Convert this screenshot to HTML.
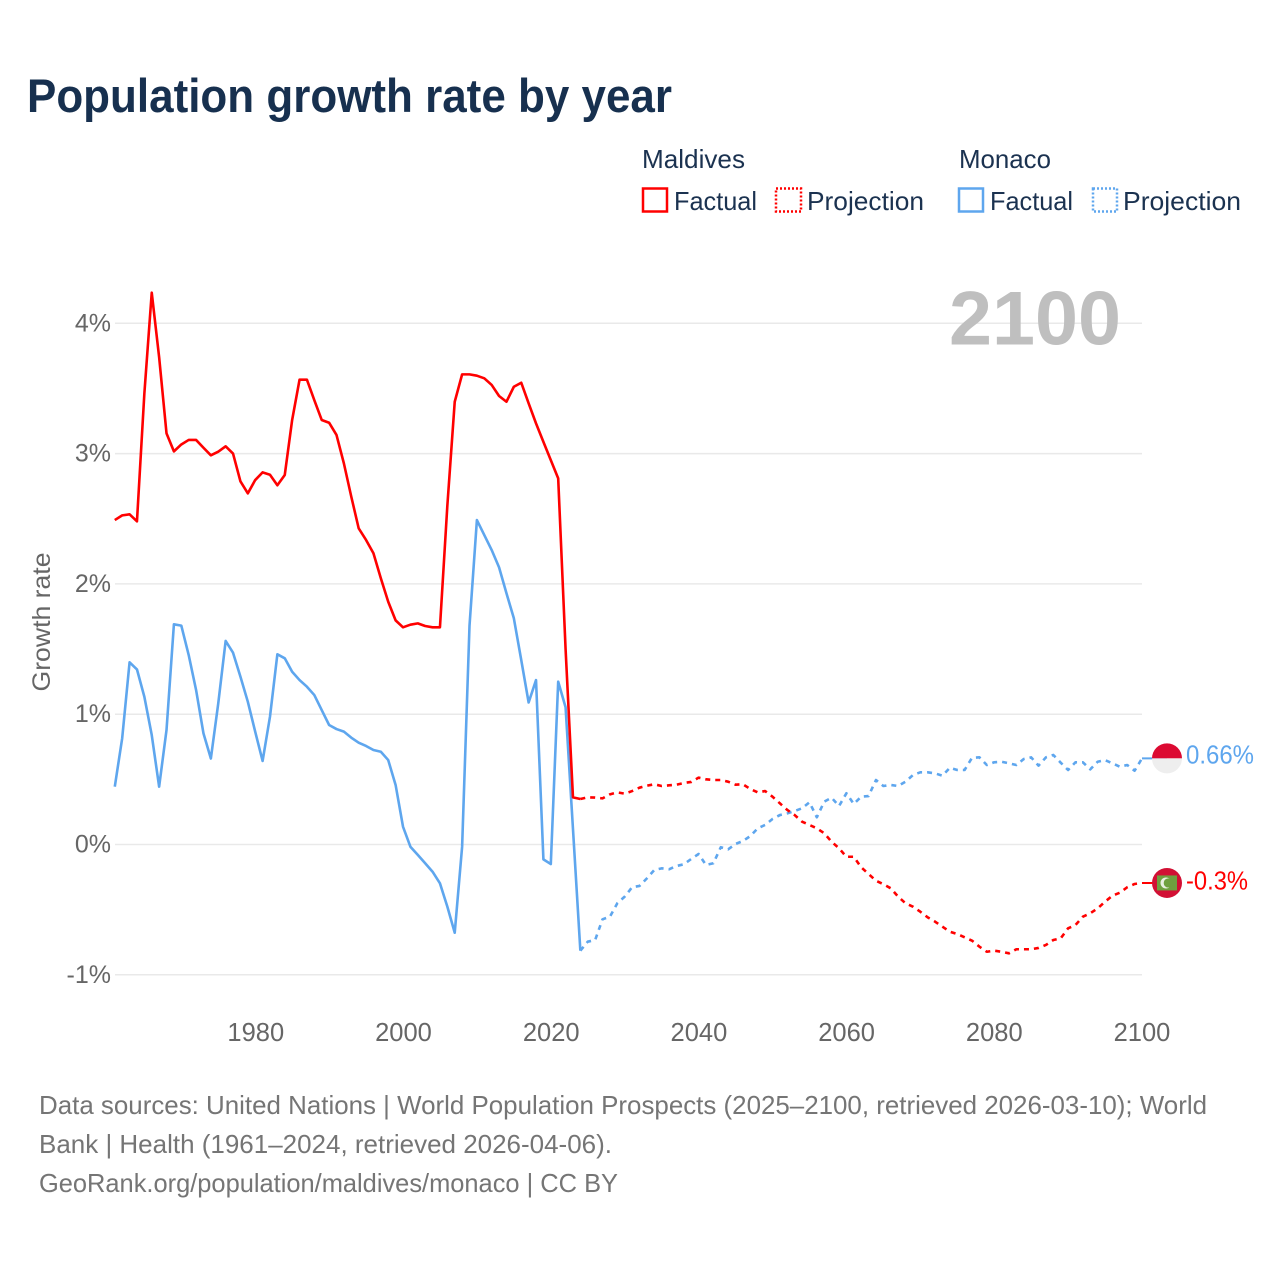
<!DOCTYPE html>
<html lang="en">
<head>
<meta charset="utf-8">
<title>Population growth rate by year</title>
<style>
html,body{margin:0;padding:0;background:#fff;}
svg{display:block;font-family:"Liberation Sans",sans-serif;}
</style>
</head>
<body>
<svg id="chart" width="1280" height="1280" viewBox="0 0 1280 1280" xmlns="http://www.w3.org/2000/svg">
  <rect width="1280" height="1280" fill="#ffffff"/>
  <text x="27" y="112" font-size="47" font-weight="700" fill="#17304f" textLength="645" lengthAdjust="spacingAndGlyphs">Population growth rate by year</text>

  <g font-size="26" fill="#1b3250">
    <text x="642" y="168" textLength="103" lengthAdjust="spacingAndGlyphs">Maldives</text>
    <rect x="643" y="188.5" width="24" height="23" fill="none" stroke="#ff0000" stroke-width="2.5"/>
    <text x="674" y="210" textLength="83" lengthAdjust="spacingAndGlyphs">Factual</text>
    <rect x="776" y="188.5" width="25" height="23" fill="none" stroke="#ff0000" stroke-width="2.5" stroke-dasharray="2 2"/>
    <text x="807" y="210" textLength="117" lengthAdjust="spacingAndGlyphs">Projection</text>
    <text x="959" y="168" textLength="92" lengthAdjust="spacingAndGlyphs">Monaco</text>
    <rect x="959" y="188.5" width="24" height="23" fill="none" stroke="#5ea6ee" stroke-width="2.5"/>
    <text x="990" y="210" textLength="83" lengthAdjust="spacingAndGlyphs">Factual</text>
    <rect x="1093" y="188.5" width="24" height="23" fill="none" stroke="#5ea6ee" stroke-width="2.5" stroke-dasharray="2 2"/>
    <text x="1123" y="210" textLength="118" lengthAdjust="spacingAndGlyphs">Projection</text>
  </g>

  <g id="grid"></g>
  <text x="949" y="344.5" font-size="76" font-weight="700" fill="#bfbfbf" textLength="172" lengthAdjust="spacingAndGlyphs">2100</text>
  <g id="yticks" font-size="25" fill="#666666" text-anchor="end"></g>
  <g id="xticks" font-size="25.5" fill="#666666" text-anchor="middle"></g>
  <text transform="translate(50 622) rotate(-90)" font-size="25" fill="#666666" text-anchor="middle" textLength="139" lengthAdjust="spacingAndGlyphs">Growth rate</text>
  <g id="series" fill="none" stroke-linejoin="round"></g>
  <g id="ends"></g>

  <g font-size="26" fill="#757575">
    <text x="39" y="1114" textLength="1168" lengthAdjust="spacingAndGlyphs">Data sources: United Nations | World Population Prospects (2025–2100, retrieved 2026-03-10); World</text>
    <text x="39" y="1153" textLength="573" lengthAdjust="spacingAndGlyphs">Bank | Health (1961–2024, retrieved 2026-04-06).</text>
    <text x="39" y="1192" textLength="579" lengthAdjust="spacingAndGlyphs">GeoRank.org/population/maldives/monaco | CC BY</text>
  </g>
</svg>
<script>
const factualStartYear = 1961;
const projectionStartYear = 2024;
const yTickValues = [-1, 0, 1, 2, 3, 4];
const yTickLabels = ["-1%", "0%", "1%", "2%", "3%", "4%"];
const xTickValues = [1980, 2000, 2020, 2040, 2060, 2080, 2100];
const xTickLabels = ["1980", "2000", "2020", "2040", "2060", "2080", "2100"];
const maldivesEndLabel = "-0.3%";
const monacoEndLabel = "0.66%";

const maldivesFactual = [
  2.49,2.526,2.534,2.48,3.46,4.235,3.74,3.155,3.017,3.07,
  3.105,3.105,3.045,2.987,3.015,3.056,3.0,2.787,2.695,2.797,
  2.856,2.838,2.757,2.836,3.258,3.567,3.567,3.41,3.258,3.237,
  3.143,2.925,2.67,2.427,2.337,2.235,2.043,1.863,1.72,1.667,
  1.687,1.697,1.677,1.667,1.667,2.6,3.398,3.608,3.608,3.598,
  3.578,3.527,3.442,3.398,3.513,3.544,3.386,3.232,3.09,2.95,
  2.81,1.5,0.362,0.349
];
const monacoFactual = [
  0.444,0.815,1.398,1.344,1.134,0.84,0.444,0.879,1.69,1.68,
  1.454,1.186,0.853,0.66,1.083,1.562,1.472,1.288,1.096,0.866,
  0.641,0.981,1.46,1.429,1.326,1.262,1.211,1.147,1.032,0.917,
  0.886,0.866,0.82,0.781,0.756,0.725,0.712,0.648,0.457,0.137,
  -0.017,-0.08,-0.144,-0.209,-0.298,-0.477,-0.677,-0.017,1.68,2.49,
  2.375,2.26,2.127,1.928,1.736,1.416,1.09,1.262,-0.114,-0.15,
  1.25,1.053,0.12,-0.815
];
const maldivesProjection = [
  0.349,0.362,0.36,0.354,0.385,0.40,0.39,0.41,0.436,0.451,0.462,0.449,0.454,0.459,0.472,0.48,0.513,
  0.50,0.495,0.495,0.482,0.459,0.462,0.426,0.40,0.41,0.367,0.316,0.265,0.226,0.175,0.15,0.124,
  0.086,0.021,-0.029,-0.094,-0.094,-0.175,-0.226,-0.278,-0.305,-0.336,-0.40,-0.451,-0.477,-0.516,
  -0.559,-0.592,-0.631,-0.669,-0.687,-0.712,-0.738,-0.784,-0.823,-0.815,-0.823,-0.835,-0.804,-0.804,
  -0.804,-0.794,-0.771,-0.733,-0.72,-0.643,-0.618,-0.554,-0.528,-0.49,-0.439,-0.393,-0.37,-0.328,
  -0.303,-0.295
];
const monacoProjection = [
  -0.815,-0.746,-0.733,-0.574,-0.554,-0.451,-0.40,-0.328,-0.318,-0.26,-0.196,-0.183,-0.19,-0.165,
  -0.152,-0.111,-0.073,-0.157,-0.144,-0.021,-0.037,0.004,0.027,0.065,0.124,0.15,0.196,0.226,0.239,
  0.257,0.278,0.324,0.209,0.329,0.359,0.295,0.393,0.311,0.367,0.372,0.495,0.449,0.457,0.449,0.482,
  0.533,0.554,0.554,0.546,0.528,0.589,0.572,0.572,0.666,0.669,0.61,0.631,0.635,0.623,0.61,0.656,
  0.669,0.605,0.669,0.687,0.628,0.572,0.631,0.631,0.577,0.635,0.648,0.623,0.597,0.61,0.566,0.661
];

const SVG_NS = "http://www.w3.org/2000/svg";
const RED = "#ff0000";
const BLUE = "#5ea6ee";
function xScale(year) { return 1142 - (2100 - year) * 7.39; }
function yScale(value) { return 844.5 - value * 130.3; }
function make(tag, attrs, parent) {
  const el = document.createElementNS(SVG_NS, tag);
  for (const k in attrs) el.setAttribute(k, attrs[k]);
  parent.appendChild(el);
  return el;
}
function linePoints(values, startYear) {
  return values.map(function (v, i) {
    return xScale(startYear + i).toFixed(2) + "," + yScale(v).toFixed(2);
  }).join(" ");
}

const gridGroup = document.getElementById("grid");
const yTickGroup = document.getElementById("yticks");
yTickValues.forEach(function (v, i) {
  const g = make("line", { x1: 115, x2: 1142, y1: yScale(v), y2: yScale(v), stroke: "#e9e9e9", "stroke-width": 1.5 }, gridGroup);
  
  
  const t = make("text", { x: 111, y: yScale(v) + 8 }, yTickGroup);
  
  
  t.textContent = yTickLabels[i];
});

const xTickGroup = document.getElementById("xticks");
xTickValues.forEach(function (year, i) {
  const t = make("text", { x: 1142 - (2100 - year) * 7.385, y: 1041 }, xTickGroup);
  
  
  t.textContent = xTickLabels[i];
});

const seriesGroup = document.getElementById("series");
const monacoFactualLine = make("polyline", { points: linePoints(monacoFactual, factualStartYear), stroke: BLUE, "stroke-width": 2.6 }, seriesGroup);


const monacoProjectionLine = make("polyline", { points: linePoints(monacoProjection, projectionStartYear), stroke: BLUE, "stroke-width": 2.6, "stroke-dasharray": "5 5" }, seriesGroup);


const maldivesFactualLine = make("polyline", { points: linePoints(maldivesFactual, factualStartYear), stroke: RED, "stroke-width": 2.6 }, seriesGroup);


const maldivesProjectionLine = make("polyline", { points: linePoints(maldivesProjection, projectionStartYear), stroke: RED, "stroke-width": 2.6, "stroke-dasharray": "5 5" }, seriesGroup);



const endGroup = document.getElementById("ends");
const flagX = 1167;
const lastX = xScale(2100);

const monacoY = yScale(monacoProjection[monacoProjection.length - 1]);
const monacoLead = make("line", { x1: lastX, x2: flagX, y1: monacoY, y2: monacoY, stroke: BLUE, "stroke-width": 2 }, endGroup);


const monacoFlag = make("g", { transform: "translate(" + flagX + " " + monacoY + ")" }, endGroup);


make("path", { d: "M-15 0A15 15 0 0 1 15 0Z", fill: "#dc0a32" }, monacoFlag);
make("path", { d: "M-15 0A15 15 0 0 0 15 0Z", fill: "#eeeeee" }, monacoFlag);
const monacoLabel = make("text", { x: 1186, y: monacoY + 5, "font-size": 26, fill: BLUE, textLength: 68, lengthAdjust: "spacingAndGlyphs" }, endGroup);


monacoLabel.textContent = monacoEndLabel;

const maldivesY = yScale(maldivesProjection[maldivesProjection.length - 1]);
const maldivesLead = make("line", { x1: lastX, x2: flagX, y1: maldivesY, y2: maldivesY, stroke: RED, "stroke-width": 2 }, endGroup);


const maldivesFlag = make("g", { transform: "translate(" + flagX + " " + maldivesY + ")" }, endGroup);


make("circle", { cx: 0, cy: 0, r: 15, fill: "#d21034" }, maldivesFlag);
make("rect", { x: -10, y: -7.5, width: 20, height: 15, fill: "#6fa03f" }, maldivesFlag);
make("circle", { cx: -1, cy: 0, r: 5.5, fill: "#e8efe0" }, maldivesFlag);
make("circle", { cx: 1.3, cy: 0, r: 4.6, fill: "#6fa03f" }, maldivesFlag);
const maldivesLabel = make("text", { x: 1186, y: maldivesY + 6.5, "font-size": 26, fill: RED, textLength: 62, lengthAdjust: "spacingAndGlyphs" }, endGroup);


maldivesLabel.textContent = maldivesEndLabel;
</script>
</body>
</html>
